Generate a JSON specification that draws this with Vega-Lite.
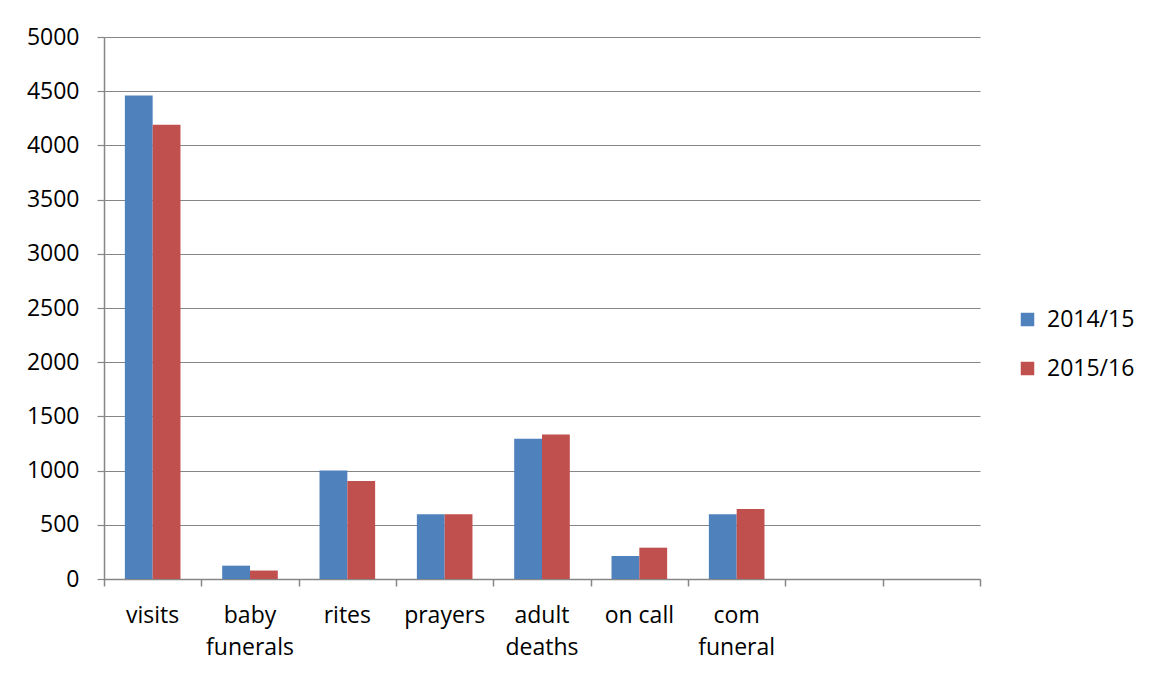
{
  "$schema": "https://vega.github.io/schema/vega-lite/v6.json",
  "width": 876,
  "height": 542,
  "autosize": {"type": "none"},
  "padding": {"left": 104, "top": 37, "right": 173, "bottom": 96},
  "background": "white",
  "config": {"view": {"stroke": null}, "font": "Open Sans"},
  "data": {
    "values": [
      {"category": "visits", "year": "2014/15", "amount": 4460},
      {"category": "visits", "year": "2015/16", "amount": 4190},
      {"category": "baby funerals", "year": "2014/15", "amount": 123},
      {"category": "baby funerals", "year": "2015/16", "amount": 78},
      {"category": "rites", "year": "2014/15", "amount": 1002},
      {"category": "rites", "year": "2015/16", "amount": 905},
      {"category": "prayers", "year": "2014/15", "amount": 598},
      {"category": "prayers", "year": "2015/16", "amount": 598},
      {"category": "adult deaths", "year": "2014/15", "amount": 1294},
      {"category": "adult deaths", "year": "2015/16", "amount": 1334},
      {"category": "on call", "year": "2014/15", "amount": 212},
      {"category": "on call", "year": "2015/16", "amount": 289},
      {"category": "com funeral", "year": "2014/15", "amount": 598},
      {"category": "com funeral", "year": "2015/16", "amount": 646}
    ]
  },
  "layer": [
    {
      "mark": {"type": "bar"},
      "encoding": {
        "x": {
          "field": "category",
          "type": "nominal",
          "scale": {
            "domain": ["visits", "baby funerals", "rites", "prayers", "adult deaths", "on call", "com funeral", "blank1", "blank2"],
            "paddingInner": 0,
            "paddingOuter": 0
          },
          "axis": {
            "title": null,
            "orient": "bottom",
            "labelAngle": 0,
            "domainColor": "#868686",
            "domainWidth": 1.5,
            "ticks": false,
            "labelFontSize": 23,
            "labelColor": "#000000",
            "labelPadding": 25,
            "labelLineHeight": 32,
            "labelExpr": "datum.value == 'baby funerals' ? ['baby', 'funerals'] : datum.value == 'adult deaths' ? ['adult', 'deaths'] : datum.value == 'com funeral' ? ['com', 'funeral'] : indexof(datum.value, 'blank') == 0 ? '' : datum.value"
          }
        },
        "xOffset": {"field": "year", "type": "nominal", "scale": {"paddingInner": 0, "paddingOuter": 0.75}},
        "y": {
          "field": "amount",
          "type": "quantitative",
          "scale": {"domain": [0, 5000], "nice": false},
          "axis": {
            "title": null,
            "values": [0, 500, 1000, 1500, 2000, 2500, 3000, 3500, 4000, 4500, 5000],
            "format": "d",
            "grid": true,
            "gridColor": "#868686",
            "gridWidth": 1.2,
            "domainColor": "#868686",
            "domainWidth": 1.5,
            "tickColor": "#868686",
            "tickWidth": 1.2,
            "tickSize": 7,
            "labelFontSize": 23,
            "labelColor": "#000000",
            "labelPadding": 18
          }
        },
        "color": {
          "field": "year",
          "type": "nominal",
          "scale": {"domain": ["2014/15", "2015/16"], "range": ["#4F81BD", "#C0504D"]},
          "legend": {
            "title": null,
            "orient": "none",
            "legendX": 912,
            "legendY": 271,
            "symbolType": "square",
            "symbolSize": 182,
            "symbolStrokeWidth": 0,
            "labelFontSize": 23,
            "labelColor": "#000000",
            "labelOffset": 8,
            "rowPadding": 25
          }
        }
      }
    },
    {
      "mark": {"type": "rule", "opacity": 0},
      "encoding": {
        "x": {
          "datum": 0,
          "type": "quantitative",
          "scale": {"domain": [0, 9], "nice": false, "zero": false},
          "axis": {
            "title": null,
            "orient": "bottom",
            "values": [0, 1, 2, 3, 4, 5, 6, 7, 8, 9],
            "labels": false,
            "domain": false,
            "grid": false,
            "ticks": true,
            "tickColor": "#868686",
            "tickWidth": 1.5,
            "tickSize": 7
          }
        }
      }
    }
  ],
  "resolve": {"scale": {"x": "independent"}, "axis": {"x": "independent"}}
}
